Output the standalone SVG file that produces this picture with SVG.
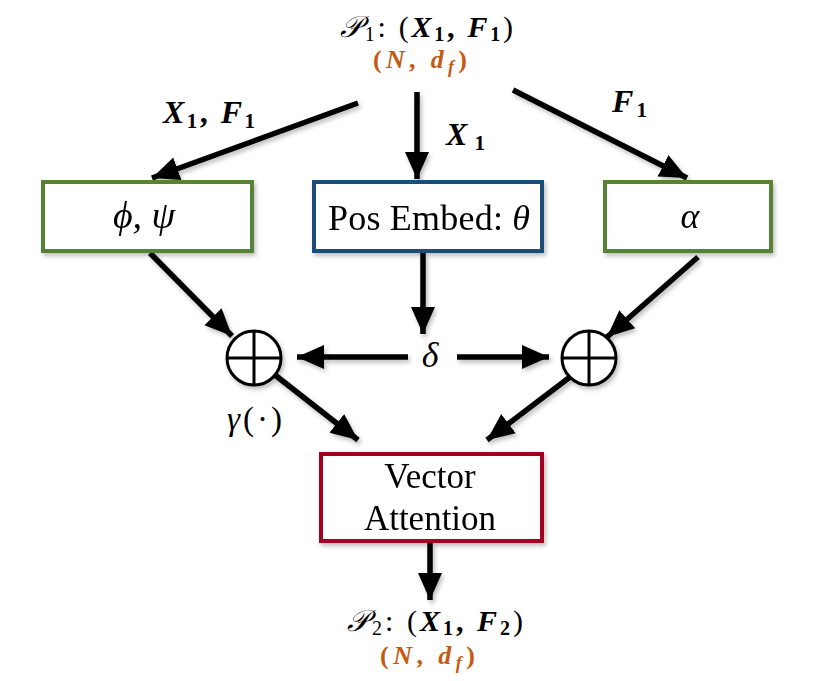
<svg xmlns="http://www.w3.org/2000/svg" width="832" height="681" viewBox="0 0 832 681">
<style>
.t{font-family:"Liberation Serif","DejaVu Serif",serif;fill:#000}
.bi{font-weight:bold;font-style:italic}
.b{font-weight:bold}
.i{font-style:italic}
.or{fill:#C55A11;font-weight:bold}
.box{fill:#fff;stroke-width:4}
.ln{stroke:#000;stroke-width:5.5;fill:none;marker-end:url(#ah)}
.cl{fill:#fff;stroke:#000;stroke-width:3}
.cx{stroke:#000;stroke-width:3}
</style>
<defs>
<marker id="ah" markerUnits="userSpaceOnUse" markerWidth="30" markerHeight="26" refX="27" refY="13" orient="auto">
<path d="M0,1 L27,13 L0,25 z" fill="#000"/>
</marker>
<filter id="sh" filterUnits="userSpaceOnUse" x="0" y="0" width="832" height="681">
<feDropShadow dx="2" dy="3" stdDeviation="2" flood-color="#000" flood-opacity="0.25"/>
</filter>
</defs>
<rect width="832" height="681" fill="#fff"/>

<g id="p1" class="t" font-size="30">
<text x="340" y="37" textLength="173" lengthAdjust="spacing"><tspan font-family="DejaVu Serif,serif" font-style="italic">𝒫</tspan><tspan font-size="20" dy="4">1</tspan><tspan dy="-4">: (</tspan><tspan class="bi">X</tspan><tspan class="b" font-size="20" dy="4">1</tspan><tspan dy="-4" class="b">, </tspan><tspan class="bi">F</tspan><tspan class="b" font-size="20" dy="4">1</tspan><tspan dy="-4">)</tspan></text>
<text x="373" y="68" class="or" font-size="26" textLength="94" lengthAdjust="spacing"><tspan>(</tspan><tspan font-style="italic">N</tspan><tspan>, </tspan><tspan font-style="italic">d</tspan><tspan font-style="italic" font-size="18" dy="5">f</tspan><tspan dy="-5">)</tspan></text>
</g>

<g id="connectors" filter="url(#sh)">
<line class="ln" x1="358" y1="103" x2="152" y2="178"/>
<line class="ln" x1="417" y1="92" x2="417" y2="179"/>
<line class="ln" x1="513" y1="90" x2="687" y2="178"/>
<line class="ln" x1="150" y1="253" x2="232" y2="336"/>
<line class="ln" x1="423" y1="253" x2="423" y2="334"/>
<line class="ln" x1="698" y1="257" x2="607" y2="337"/>
<line class="ln" x1="408" y1="357" x2="297" y2="357"/>
<line class="ln" x1="457" y1="357" x2="549" y2="357"/>
<line class="ln" x1="275" y1="375" x2="358" y2="440"/>
<line class="ln" x1="570" y1="377" x2="487" y2="440"/>
<line class="ln" x1="430" y1="543" x2="430" y2="600"/>
</g>

<g id="lbl1" class="t" font-size="32">
<text x="163" y="123" textLength="92" lengthAdjust="spacing"><tspan class="bi">X</tspan><tspan class="b" font-size="21" dy="5">1</tspan><tspan class="b" dy="-5">, </tspan><tspan class="bi">F</tspan><tspan class="b" font-size="21" dy="5">1</tspan></text>
</g>
<g id="lbl2" class="t" font-size="32">
<text x="446" y="145" textLength="39" lengthAdjust="spacing"><tspan class="bi">X</tspan><tspan class="b" font-size="21" dy="5">1</tspan></text>
</g>
<g id="lbl3" class="t" font-size="32">
<text x="612" y="112" textLength="35" lengthAdjust="spacing"><tspan class="bi">F</tspan><tspan class="b" font-size="21" dy="5">1</tspan></text>
</g>

<g id="phipsi" filter="url(#sh)">
<rect class="box" x="43" y="182" width="209" height="69" stroke="#548235"/>
<text class="t i" x="113" y="228" font-size="38" textLength="62" lengthAdjust="spacing">ϕ, ψ</text>
</g>
<g id="posembed" filter="url(#sh)">
<rect class="box" x="314" y="182" width="228" height="69" stroke="#1F4E79"/>
<text class="t" x="328" y="230" font-size="36" textLength="202" lengthAdjust="spacing">Pos Embed: <tspan class="i">θ</tspan></text>
</g>
<g id="alpha" filter="url(#sh)">
<rect class="box" x="605" y="182" width="166" height="69" stroke="#548235"/>
<text class="t i" x="690" y="228" font-size="36" text-anchor="middle">α</text>
</g>

<g id="plus1" filter="url(#sh)">
<circle class="cl" cx="254" cy="358" r="27"/>
<line class="cx" x1="227" y1="358" x2="281" y2="358"/>
<line class="cx" x1="254" y1="331" x2="254" y2="385"/>
</g>
<g id="plus2" filter="url(#sh)">
<circle class="cl" cx="589" cy="358" r="27"/>
<line class="cx" x1="562" y1="358" x2="616" y2="358"/>
<line class="cx" x1="589" y1="331" x2="589" y2="385"/>
</g>

<g id="delta"><text class="t i" x="430" y="367" font-size="36" text-anchor="middle">δ</text></g>
<g id="gamma"><text class="t" x="227" y="430" font-size="33" textLength="55" lengthAdjust="spacing"><tspan class="i">γ</tspan>(·)</text></g>

<g id="va" filter="url(#sh)">
<rect class="box" x="321" y="454" width="221" height="87" stroke="#A50021"/>
<text class="t" x="430" y="488" font-size="35" text-anchor="middle">Vector</text>
<text class="t" x="430" y="530" font-size="35" text-anchor="middle">Attention</text>
</g>

<g id="p2" class="t" font-size="30">
<text x="347" y="631" textLength="176" lengthAdjust="spacing"><tspan font-family="DejaVu Serif,serif" font-style="italic">𝒫</tspan><tspan font-size="20" dy="4">2</tspan><tspan dy="-4">: (</tspan><tspan class="bi">X</tspan><tspan class="b" font-size="20" dy="4">1</tspan><tspan dy="-4" class="b">, </tspan><tspan class="bi">F</tspan><tspan class="b" font-size="20" dy="4">2</tspan><tspan dy="-4">)</tspan></text>
<text x="380" y="664" class="or" font-size="26" textLength="95" lengthAdjust="spacing"><tspan>(</tspan><tspan font-style="italic">N</tspan><tspan>, </tspan><tspan font-style="italic">d</tspan><tspan font-style="italic" font-size="18" dy="5">f</tspan><tspan dy="-5">)</tspan></text>
</g>
</svg>
